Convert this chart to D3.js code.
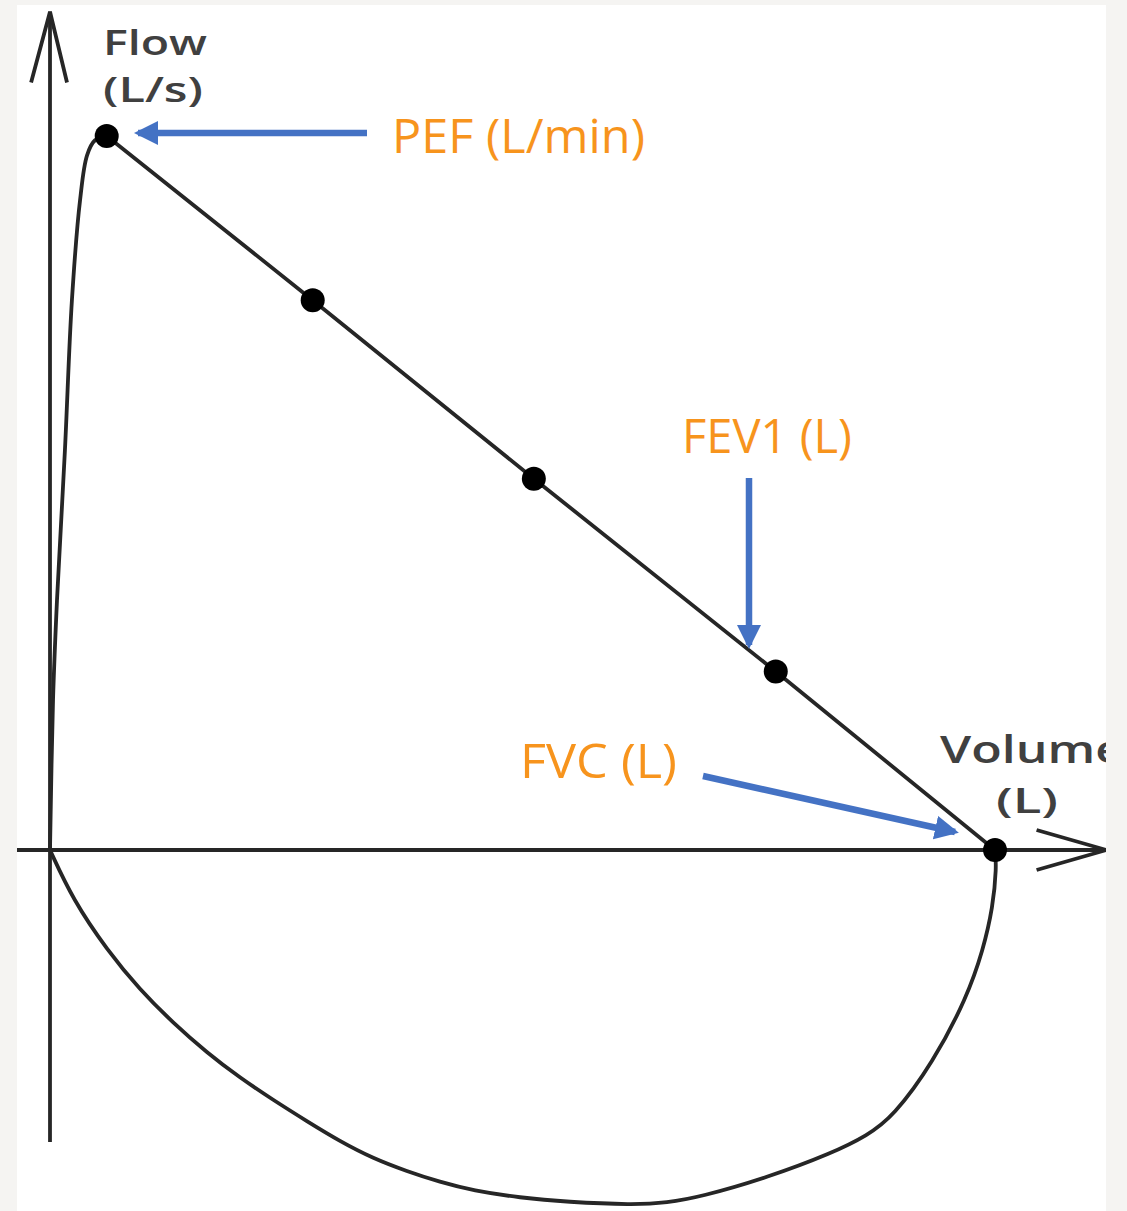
<!DOCTYPE html>
<html>
<head>
<meta charset="utf-8">
<script src="https://cdn.jsdelivr.net/npm/d3@7"></script>
<style>
  html, body { margin: 0; padding: 0; background: #f5f4f2; }
  svg { display: block; }
</style>
</head>
<body>
<div id="chart"></div>
<script>
// flow-volume loop, volume in L, flow in L/s
const riseVolume = [0, 0.016, 0.037, 0.079, 0.116, 0.159, 0.196, 0.238, 0.30];
const riseFlow   = [0, 2.1, 3.5, 5.6, 7.7, 9.1, 9.73, 9.94, 10.0];

const markVolume = [0.30, 1.39, 2.56, 3.84, 5.0];
const markFlow   = [10.0, 7.7, 5.2, 2.5, 0];

const inspVolume = [0, 0.122, 0.302, 0.476, 0.651, 0.831, 1.005, 1.18, 1.36, 1.534, 1.71, 1.889, 2.063, 2.238,
                    2.487, 2.735, 3.085, 3.265, 3.439, 3.794, 4.143, 4.323, 4.46, 4.672, 4.852, 4.937, 4.989, 5.008, 5.0];
const inspFlow   = [0, -0.70, -1.40, -1.96, -2.42, -2.84, -3.19, -3.50, -3.80, -4.08, -4.32, -4.50, -4.65, -4.77,
                    -4.87, -4.93, -4.97, -4.94, -4.86, -4.59, -4.24, -4.00, -3.74, -2.98, -2.06, -1.40, -0.80, -0.24, 0];

const labels = ["PEF (L/min)", "FEV1 (L)", "FVC (L)"];

const width = 1127, height = 1211;

const svg = d3.select("#chart")
    .append("svg")
    .attr("width", width)
    .attr("height", height);

// white panel
svg.append("rect")
    .attr("x", 17).attr("y", 5)
    .attr("width", 1089).attr("height", 1206)
    .attr("fill", "#fff");

const defs = svg.append("defs");
defs.append("clipPath").attr("id", "panel")
  .append("rect").attr("x", 17).attr("y", 5).attr("width", 1089).attr("height", 1206);

defs.append("marker")
    .attr("id", "head")
    .attr("markerUnits", "userSpaceOnUse")
    .attr("viewBox", "0 0 24 24")
    .attr("refX", 20).attr("refY", 12)
    .attr("markerWidth", 24).attr("markerHeight", 24)
    .attr("orient", "auto")
  .append("path")
    .attr("d", "M0,0 L24,12 L0,24 Z")
    .attr("fill", "#4472c4");

const x = d3.scaleLinear().domain([0, 5]).range([50, 995]);
const y = d3.scaleLinear().domain([0, 10]).range([850, 136]);

const g = svg.append("g").attr("clip-path", "url(#panel)");
const ink = "#262626";
const lw = 3.8;

// axes
g.append("line")
    .attr("x1", x(0)).attr("x2", x(0))
    .attr("y1", y(-4.09)).attr("y2", y(11.74))
    .attr("stroke", ink).attr("stroke-width", lw);
g.append("path")
    .attr("d", `M${x(-0.1)},${y(10.75)} L${x(0)},${y(11.74)} L${x(0.09)},${y(10.75)}`)
    .attr("fill", "none").attr("stroke", ink).attr("stroke-width", lw);

g.append("line")
    .attr("x1", x(-0.18)).attr("x2", x(5.59))
    .attr("y1", y(0)).attr("y2", y(0))
    .attr("stroke", ink).attr("stroke-width", lw);
g.append("path")
    .attr("d", `M${x(5.22)},${y(0.28)} L${x(5.59)},${y(0)} L${x(5.22)},${y(-0.28)}`)
    .attr("fill", "none").attr("stroke", ink).attr("stroke-width", lw);

const smooth = d3.line().x(d => x(d[0])).y(d => y(d[1])).curve(d3.curveCatmullRom);
const soft = d3.line().x(d => x(d[0])).y(d => y(d[1])).curve(d3.curveBasis);
const straight = d3.line().x(d => x(d[0])).y(d => y(d[1]));

g.append("path")
    .attr("d", smooth(d3.zip(riseVolume, riseFlow)))
    .attr("fill", "none").attr("stroke", ink).attr("stroke-width", lw);
g.append("path")
    .attr("d", straight(d3.zip(markVolume, markFlow)))
    .attr("fill", "none").attr("stroke", ink).attr("stroke-width", lw);
g.append("path")
    .attr("d", soft(d3.zip(inspVolume, inspFlow)))
    .attr("fill", "none").attr("stroke", ink).attr("stroke-width", lw);

g.selectAll(".dot")
    .data(d3.zip(markVolume, markFlow))
    .enter().append("circle")
    .attr("class", "dot")
    .attr("cx", d => x(d[0])).attr("cy", d => y(d[1]))
    .attr("r", 12)
    .attr("fill", "#000");

// axis titles
const axisFont = "'Open Sans', sans-serif";
const titles = [
  ["Flow", 103, 55, 104, 35],
  ["(L/s)", 103, 102, 100, 35],
  ["Volume", 940, 763, 184, 37],
  ["(L)", 996, 813, 62, 35]
];
g.selectAll(".ttl")
    .data(titles)
    .enter().append("text")
    .attr("class", "ttl")
    .attr("x", d => d[1]).attr("y", d => d[2])
    .attr("textLength", d => d[3])
    .attr("lengthAdjust", "spacingAndGlyphs")
    .attr("font-family", axisFont)
    .attr("font-weight", 600)
    .attr("font-size", d => d[4])
    .attr("fill", "#404040")
    .text(d => d[0]);

// annotations
const orange = "#f7941d";
const labelPos = [[392, 153, 253], [682, 453, 170], [520, 778, 157]];
g.selectAll(".lab")
    .data(labels)
    .enter().append("text")
    .attr("class", "lab")
    .attr("x", (d, i) => labelPos[i][0])
    .attr("y", (d, i) => labelPos[i][1])
    .attr("textLength", (d, i) => labelPos[i][2])
    .attr("lengthAdjust", "spacingAndGlyphs")
    .attr("font-family", "'Open Sans', sans-serif")
    .attr("font-size", 47)
    .attr("fill", orange)
    .text(d => d);

const arrows = [[367, 133, 138, 133], [749, 478, 749, 645], [703, 776, 955, 832]];
g.selectAll(".arr")
    .data(arrows)
    .enter().append("line")
    .attr("class", "arr")
    .attr("x1", d => d[0]).attr("y1", d => d[1])
    .attr("x2", d => d[2]).attr("y2", d => d[3])
    .attr("stroke", "#4472c4").attr("stroke-width", 6.5)
    .attr("marker-end", "url(#head)");
</script>
</body>
</html>
